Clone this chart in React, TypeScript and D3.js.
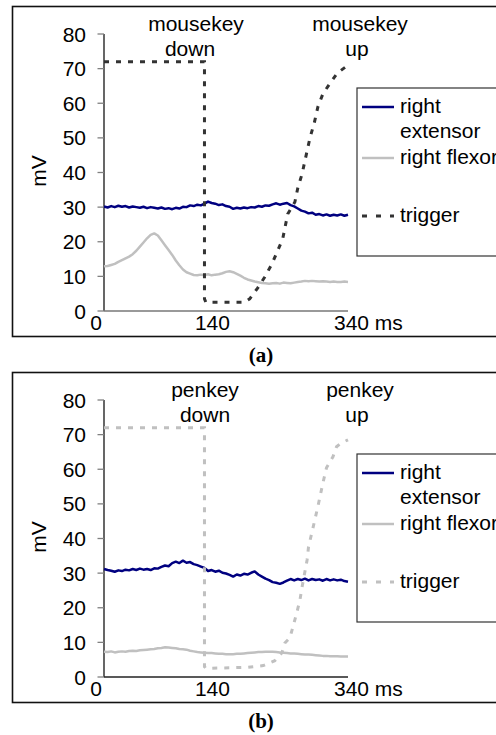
import React from "react";
import * as d3 from "d3";

// ---------- data ----------
const SAMPLE_MS = 5;
const xTicks = [0, 140, 340];
const yTicks = [0, 10, 20, 30, 40, 50, 60, 70, 80];
const legendLabels = ["right extensor", "right flexor", "trigger"];

const extensorA = [
  30.2, 29.9, 30.3, 30.0, 30.4, 30.1, 30.3, 29.9, 30.2, 30.0, 29.8, 30.1, 29.7, 30.0, 29.8, 29.6,
  29.9, 29.5, 29.7, 29.4, 29.8, 29.6, 30.1, 30.0, 30.5, 30.3, 30.7, 30.5, 31.0, 31.6, 31.2, 31.0,
  30.6, 30.8, 30.3, 30.1, 29.5, 29.8, 29.6, 29.9, 29.7, 30.0, 29.9, 30.3, 30.1, 30.5, 30.4, 30.8,
  31.1, 30.7, 31.0, 31.2, 30.6, 30.2, 29.6, 29.0, 28.7, 28.2, 28.4, 27.8, 28.0, 27.6, 27.9, 27.5,
  27.8, 27.6, 27.9, 27.5, 27.8,
];
const flexorA = [
  12.9, 13.0, 13.3, 13.6, 14.2, 14.7, 15.2, 15.7, 16.4, 17.4, 18.6, 19.8, 21.0, 22.0, 22.4, 21.8,
  20.4, 19.0, 17.6, 16.2, 14.6, 13.2, 12.0, 11.2, 10.8, 10.4, 10.3, 10.5, 10.4, 10.6, 10.3, 10.5,
  10.6, 10.9, 11.3, 11.5, 11.2, 10.7, 10.2, 9.6, 9.1, 8.8, 8.5, 8.3, 8.1, 8.0, 7.9, 8.0,
  8.1, 7.9, 8.2, 8.1, 8.0, 8.2, 8.4, 8.5, 8.7, 8.6, 8.7, 8.6, 8.5, 8.6, 8.5, 8.4,
  8.5, 8.4, 8.4, 8.5, 8.4,
];
const triggerATime = [0, 140, 140, 142, 195, 203, 214, 224, 234, 249, 256, 266, 270, 276, 287, 293, 298, 305, 315, 325, 340];
const triggerAValue = [72, 72, 3.5, 2.5, 2.5, 3.5, 6.6, 9.8, 13.6, 20.8, 28.0, 31.5, 35.5, 39.6, 50.0, 54.3, 58.9, 62.7, 65.8, 68.7, 71.0];

const extensorB = [
  31.2, 30.9, 30.7, 30.4, 30.8, 30.6, 31.0, 30.8, 31.2, 30.9, 31.3, 31.0, 31.2, 30.9, 31.4, 31.3,
  31.8, 32.2, 32.0, 32.9, 33.3, 32.9, 33.6, 33.0, 33.2, 32.6, 32.3, 31.9, 31.5, 30.6, 30.9, 30.4,
  30.7, 30.1, 29.9, 29.5, 29.0, 29.6, 29.3, 29.8, 29.6, 30.1, 30.5, 29.6, 29.0, 28.4, 28.0, 27.4,
  27.2, 26.9, 27.3, 27.8, 28.3, 27.9, 28.3, 28.0, 28.4, 27.9, 28.3, 28.0, 28.2, 27.8, 28.3, 27.9,
  28.2, 27.9, 28.1, 27.7, 27.5,
];
const flexorB = [
  7.3, 7.2, 7.4, 7.1, 7.3, 7.4, 7.3, 7.5, 7.6, 7.5, 7.7, 7.8, 7.9, 8.0, 8.1, 8.3,
  8.4, 8.6, 8.5, 8.4, 8.3, 8.1, 8.0, 7.9, 7.6, 7.4, 7.2, 7.1, 7.0, 6.9, 6.9, 6.8,
  6.7, 6.7, 6.6, 6.6, 6.6, 6.7, 6.7, 6.8, 6.9, 7.0, 7.1, 7.2, 7.2, 7.3, 7.3, 7.3,
  7.2, 7.1, 7.0, 6.9, 6.8, 6.8, 6.7, 6.6, 6.5, 6.5, 6.4, 6.3, 6.2, 6.1, 6.1, 6.0,
  6.0, 6.0, 5.9, 5.9, 5.9,
];
const triggerBTime = [0, 140, 140, 142, 200, 222, 238, 248, 252, 259, 264, 269, 273, 276, 283, 285, 290, 298, 305, 310, 319, 324, 330, 340];
const triggerBValue = [72, 72, 3.0, 2.5, 2.8, 3.3, 4.7, 7.0, 9.8, 11.3, 15.0, 18.9, 22.2, 26.0, 33.8, 37.6, 42.0, 49.2, 56.0, 60.4, 63.6, 66.5, 67.5, 68.5];

// ---------- styles ----------
const FONT = "'Liberation Sans', Arial, sans-serif";
const FS = 21;
const NAVY = "#000080";
const LIGHT = "#c0c0c0";

type PanelProps = {
  oy: number;
  extensor: number[];
  flexor: number[];
  trigTime: number[];
  trigValue: number[];
  trigColor: string;
  keyName: string;
  caption: string;
  axisColor: string;
  downX: [number, number];
};

function Panel(p: PanelProps) {
  const x = d3.scaleLinear().domain([0, 340]).range([104, 348]);
  const y = d3.scaleLinear().domain([0, 80]).range([p.oy + 311, p.oy + 34]);
  const series = d3
    .line<number>()
    .x((_, i) => x(i * SAMPLE_MS))
    .y((d) => y(d));
  const trig = d3
    .line<number>()
    .x((_, i) => x(p.trigTime[i]))
    .y((d) => y(d));
  const xLabelDx = [-8, 8, -14];
  const legendLineX: [number, number] = [362, 394];
  const lg = [
    { color: NAVY, dash: undefined as string | undefined, lineY: 107, lines: ["right", "extensor"], ys: [113, 138] },
    { color: LIGHT, dash: undefined as string | undefined, lineY: 158, lines: ["right flexor"], ys: [163.5] },
    { color: p.trigColor, dash: "5,9", lineY: 216, lines: ["trigger"], ys: [221.5] },
  ];
  return (
    <g>
      <rect x={12.5} y={p.oy + 6.5} width={600} height={330} fill="white" stroke="#111" strokeWidth={1.6} />
      {/* annotations */}
      <text x={p.downX[0]} y={p.oy + 30.5} fontSize={FS} fontFamily={FONT} textAnchor="middle">{p.keyName}</text>
      <text x={p.downX[1]} y={p.oy + 55.5} fontSize={FS} fontFamily={FONT} textAnchor="middle">down</text>
      <text x={360} y={p.oy + 30.5} fontSize={FS} fontFamily={FONT} textAnchor="middle">{p.keyName}</text>
      <text x={357} y={p.oy + 55.5} fontSize={FS} fontFamily={FONT} textAnchor="middle">up</text>
      {/* y axis */}
      <line x1={x(0)} x2={x(0)} y1={y(0)} y2={y(80)} stroke="#000" strokeWidth={1.2} />
      {yTicks.map((t) => (
        <g key={t}>
          <line x1={x(0) - 6.5} x2={x(0)} y1={y(t)} y2={y(t)} stroke="#808080" strokeWidth={1.3} />
          <text x={86} y={y(t)} dy="0.36em" fontSize={FS} fontFamily={FONT} textAnchor="end">{t}</text>
        </g>
      ))}
      <text transform={`translate(46,${p.oy + 171}) rotate(-90)`} fontSize={FS} fontFamily={FONT} textAnchor="middle">mV</text>
      {/* x axis */}
      <line x1={x(0)} x2={x(340)} y1={y(0)} y2={y(0)} stroke={p.axisColor} strokeWidth={1.6} />
      {xTicks.map((t, i) => (
        <text key={t} x={x(t) + xLabelDx[i]} y={p.oy + 329.5} fontSize={FS} fontFamily={FONT}
          textAnchor={i === 2 ? "start" : "middle"}>{i === 2 ? `${t} ms` : t}</text>
      ))}
      {/* series */}
      <path d={series(p.flexor) || ""} fill="none" stroke={LIGHT} strokeWidth={2.5} strokeLinejoin="round" />
      <path d={series(p.extensor) || ""} fill="none" stroke={NAVY} strokeWidth={2.5} strokeLinejoin="round" />
      <path d={trig(p.trigValue) || ""} fill="none" stroke={p.trigColor} strokeWidth={3} strokeDasharray="5,7" />
      {/* legend */}
      <rect x={357} y={p.oy + 88} width={300} height={168} fill="white" stroke="#333" strokeWidth={1.2} />
      {lg.map((l, i) => (
        <g key={i}>
          <line x1={legendLineX[0]} x2={legendLineX[1]} y1={p.oy + l.lineY} y2={p.oy + l.lineY}
            stroke={l.color} strokeWidth={l.dash ? 3 : 2.5} strokeDasharray={l.dash} />
          {l.lines.map((s, j) => (
            <text key={j} x={400} y={p.oy + l.ys[j]} fontSize={FS} fontFamily={FONT}>{s}</text>
          ))}
        </g>
      ))}
      <text x={261} y={p.oy + 362} fontSize={21} fontWeight="bold" fontFamily="'Liberation Serif', 'Times New Roman', serif" textAnchor="middle">{p.caption}</text>
      <desc>{legendLabels.join(", ")}</desc>
    </g>
  );
}

export default function App() {
  return (
    <svg width={496} height={735} style={{ position: "absolute", left: 0, top: 0, background: "white" }}>
      <Panel oy={0} extensor={extensorA} flexor={flexorA} trigTime={triggerATime} trigValue={triggerAValue}
        trigColor="#333" keyName="mousekey" caption="(a)" axisColor="#777" downX={[196, 190]} />
      <Panel oy={366} extensor={extensorB} flexor={flexorB} trigTime={triggerBTime} trigValue={triggerBValue}
        trigColor={LIGHT} keyName="penkey" caption="(b)" axisColor="#222" downX={[205, 205]} />
    </svg>
  );
}
